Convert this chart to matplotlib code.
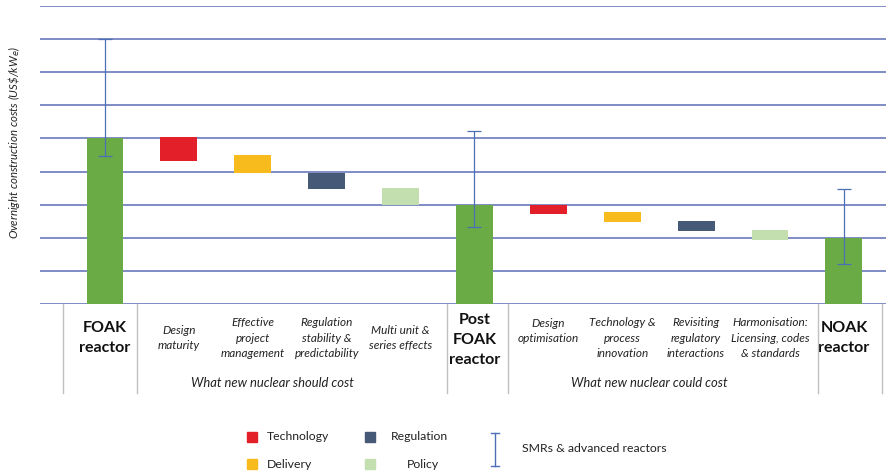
import matplotlib
matplotlib.use("Agg")
import matplotlib.pyplot as plt
from matplotlib.transforms import blended_transform_factory
from matplotlib.patches import Rectangle
from matplotlib.lines import Line2D

plt.rcParams['font.family'] = ['Lato', 'DejaVu Sans']

# ---- data ----
categories = ["FOAK\nreactor", "Design\nmaturity", "Effective\nproject\nmanagement",
              "Regulation\nstability &\npredictability", "Multi unit &\nseries effects",
              "Post\nFOAK\nreactor", "Design\noptimisation", "Technology &\nprocess\ninnovation",
              "Revisiting\nregulatory\ninteractions", "Harmonisation:\nLicensing, codes\n& standards",
              "NOAK\nreactor"]
kinds = ["total", "Technology", "Delivery", "Regulation", "Policy",
         "total", "Technology", "Delivery", "Regulation", "Policy", "total"]
bar_top = [5.0, 5.05, 4.5, 3.97, 3.5, 3.0, 3.0, 2.78, 2.5, 2.23, 2.0]
bar_bottom = [0.0, 4.33, 3.96, 3.48, 3.0, 0.0, 2.72, 2.48, 2.21, 1.93, 0.0]
err_high = [8.0, None, None, None, None, 5.23, None, None, None, None, 3.47]
err_low = [4.48, None, None, None, None, 2.33, None, None, None, None, 1.21]
groups = ["What new nuclear should cost", "What new nuclear could cost"]
group_centers = [2.27, 7.37]
separators = [-0.57, 0.43, 4.63, 5.45, 9.65, 10.51]
legend_items = ["Technology", "Delivery", "Regulation", "Policy"]
y_label = r"Overnight construction costs (US\$/kW$_e$)"

colors = {"total": "#6aab45", "Technology": "#e3202a", "Delivery": "#f7bb1e",
          "Regulation": "#465a78", "Policy": "#c3dfb0"}
grid_color = "#6a78bb"
err_color = "#4d6fb5"

W, H = 886, 471
fig = plt.figure(figsize=(W / 100, H / 100), dpi=100)

def fx(px):
    return px / W

def fy(py):
    return 1 - py / H

ax = fig.add_axes([fx(40), fy(304), fx(886 - 40), (304 - 6) / H])
x = list(range(len(categories)))
ax.set_xlim(-0.88, 10.57)
ax.set_ylim(0, 9)
for s in ax.spines.values():
    s.set_visible(False)
ax.set_xticks([])
ax.set_yticks(range(0, 10))
ax.tick_params(axis='y', length=0, labelleft=False)
ax.yaxis.grid(True, color=grid_color, linewidth=1.2, zorder=0)
ax.set_axisbelow(True)

for i in x:
    ax.bar(i, bar_top[i] - bar_bottom[i], bottom=bar_bottom[i], width=0.5,
           color=colors[kinds[i]], zorder=2)
    if err_high[i] is not None:
        mid = (err_high[i] + err_low[i]) / 2
        ax.errorbar(i, mid, yerr=[[mid - err_low[i]], [err_high[i] - mid]],
                    fmt='none', ecolor=err_color, elinewidth=0.9, capsize=5,
                    capthick=0.9, zorder=3)

# y label
fig.text(fx(14), fy(143), y_label, rotation=90, ha='center', va='center',
         fontsize=8.2, style='italic', color='#222222', rotation_mode='anchor')

# category labels
tr = blended_transform_factory(ax.transData, fig.transFigure)
for i, lab in enumerate(categories):
    if kinds[i] == "total":
        nlines = lab.count("\n") + 1
        yc = 338 if nlines == 2 else 340
        ax.text(i, fy(yc), lab, transform=tr, ha='center', va='center',
                fontsize=11.5, fontweight='bold', color='#111111',
                linespacing=1.55)
    else:
        yc = 331 if i == 6 else 338
        ax.text(i, fy(yc), lab, transform=tr, ha='center', va='center',
                fontsize=8.5, style='italic', color='#222222', linespacing=1.45)

for gc, g in zip(group_centers, groups):
    ax.text(gc, fy(383), g, transform=tr, ha='center', va='center',
            fontsize=9.4, style='italic', color='#222222')

for sx in separators:
    fig.add_artist(Line2D([sx, sx], [fy(304), fy(393)], color='#c0c0c0',
                          linewidth=1.0, transform=tr))

# legend
leg_pos = {"Technology": (252, 437, 267), "Delivery": (252, 464, 267),
           "Regulation": (370, 437, 391), "Policy": (370, 464, 407)}
for name in legend_items:
    sx_, sy_, tx_ = leg_pos[name]
    fig.add_artist(Rectangle((fx(sx_ - 5), fy(sy_ + 5)), fx(10), 10 / H,
                             color=colors[name], transform=fig.transFigure))
    fig.text(fx(tx_), fy(sy_), name, ha='left', va='center', fontsize=8.8,
             color='#222222')
fig.add_artist(Line2D([fx(495), fx(495)], [fy(433), fy(466)], color=err_color,
                      linewidth=1.0, transform=fig.transFigure))
for yy in (433, 466):
    fig.add_artist(Line2D([fx(491), fx(499)], [fy(yy), fy(yy)], color=err_color,
                          linewidth=1.0, transform=fig.transFigure))
fig.text(fx(522), fy(448), "SMRs & advanced reactors", ha='left', va='center',
         fontsize=8.8, color='#222222')

fig.savefig("out.png", dpi=100, facecolor='white')
